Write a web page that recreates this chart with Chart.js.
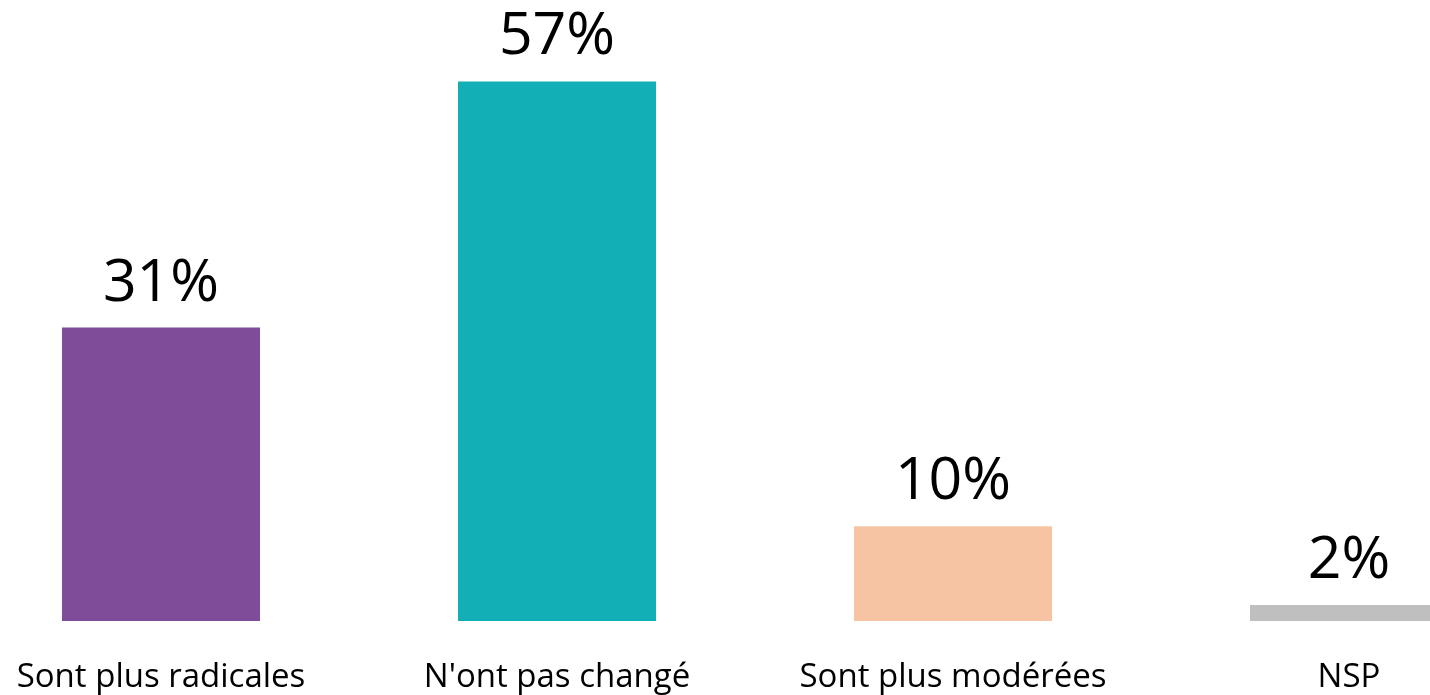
<!DOCTYPE html>
<html>
<head>
<meta charset="utf-8">
<script src="https://cdn.jsdelivr.net/npm/chart.js@4.4.0/dist/chart.umd.min.js"></script>
<style>
  html, body { margin: 0; padding: 0; background: #fff; overflow: hidden; }
  #wrap { position: absolute; left: -37px; top: 0; width: 1584px; height: 695px; }
</style>
</head>
<body>
<div id="wrap"><canvas id="graphique"></canvas></div>
<script>
const categories = ['Sont plus radicales', "N'ont pas changé", 'Sont plus modérées', 'NSP'];
const valeurs = [31, 57, 10, 1.7];
const etiquettes = ['31%', '57%', '10%', '2%'];
const couleurs = ['#7F4C9A', '#13AFB7', '#F7C4A3', '#BFBFBF'];

// etiquettes au-dessus des barres + noms des categories sous l'axe
const etiquettesBarres = {
  id: 'etiquettesBarres',
  afterDatasetsDraw(chart) {
    const ctx = chart.ctx;
    const meta = chart.getDatasetMeta(0);
    const xScale = chart.scales.x;
    ctx.save();
    ctx.fillStyle = '#000';
    ctx.textAlign = 'center';
    ctx.textBaseline = 'alphabetic';
    ctx.font = '59px "Open Sans"';
    meta.data.forEach((bar, i) => {
      ctx.fillText(etiquettes[i], bar.x, bar.y - 27);
    });
    ctx.font = '33px "Open Sans"';
    categories.forEach((c, i) => {
      ctx.fillText(c, xScale.getPixelForValue(i), chart.chartArea.bottom + 66);
    });
    ctx.restore();
  }
};

new Chart(document.getElementById('graphique'), {
  type: 'bar',
  data: {
    labels: categories,
    datasets: [{
      data: valeurs,
      backgroundColor: couleurs,
      borderWidth: 0,
      categoryPercentage: 1,
      barPercentage: 0.5
    }]
  },
  options: {
    responsive: true,
    maintainAspectRatio: false,
    animation: false,
    layout: { padding: { top: 53, bottom: 74, left: 0, right: 0 } },
    plugins: {
      legend: { display: false },
      tooltip: { enabled: false }
    },
    scales: {
      x: {
        display: false
      },
      y: {
        display: false,
        min: 0,
        max: 60
      }
    }
  },
  plugins: [etiquettesBarres]
});
</script>
</body>
</html>
